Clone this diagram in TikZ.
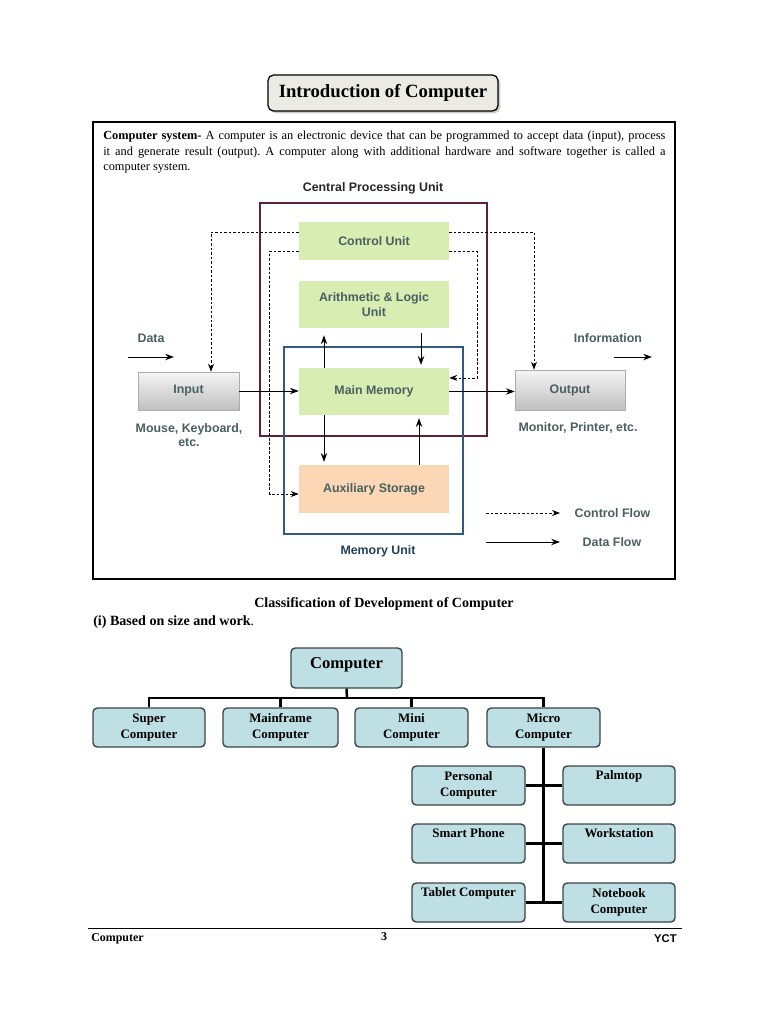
\documentclass[tikz,border=0pt]{standalone}
\usepackage{fontspec}
\setmainfont{Liberation Serif}
\newfontfamily\diagsans{Liberation Sans}
\usetikzlibrary{arrows.meta}
\usetikzlibrary{shadows}
\frenchspacing
\definecolor{cpured}{HTML}{5B2333}
\definecolor{memblue}{HTML}{2E5B7F}
\definecolor{unitgreen}{HTML}{D7EDB2}
\definecolor{auxpeach}{HTML}{FBD7B5}
\definecolor{labgray}{HTML}{4A5F60}
\definecolor{treecyan}{HTML}{BEE0E4}
\definecolor{treeedge}{HTML}{3C4646}
\definecolor{titlefill}{HTML}{ECEBE3}
\newcommand{\diagfont}{\diagsans\bfseries\fontsize{8.8}{10.2}\selectfont}
\newcommand{\pxbox}[7]{\node[#6, minimum width={(#4-#2)*0.025cm}, minimum height={(#5-#3)*0.025cm}] (#1) at ({(#2+#4)/2},{(#3+#5)/2}) {#7};}
\tikzset{
  unit/.style={fill=unitgreen, inner sep=0pt, font=\diagfont, text=labgray, align=center},
  auxunit/.style={unit, fill=auxpeach},
  device/.style={draw=gray!65, top color=gray!8, bottom color=gray!50, inner sep=0pt, font=\diagfont, text=labgray},
  lbl/.style={font=\diagfont, text=labgray, align=center, inner sep=1pt},
  dataflow/.style={-{Stealth[length=2.2mm,width=1.6mm]}, line width=0.7pt},
  ctlflow/.style={-{Stealth[length=2mm,width=1.5mm]}, line width=0.55pt, dash pattern=on 1.8pt off 1.4pt},
  treebox/.style={draw=treeedge, line width=1pt, fill=treecyan, rounded corners=3pt, inner sep=0pt, align=center, font=\bfseries\fontsize{9.2}{11.3}\selectfont},
  oneline/.style={text height=6pt, text depth=15pt},
  branch/.style={line width=1.8pt},
}
\begin{document}
\begin{tikzpicture}[x=0.025cm, y=-0.025cm]
\useasboundingbox[fill=white] (0,0) rectangle (768,1024);
% title and frame
\node[draw, line width=0.9pt, fill=titlefill, rounded corners=4pt, drop shadow={shadow xshift=1.6pt, shadow yshift=-1.6pt, fill=gray!80}, minimum width=5.75cm, minimum height=0.9cm, font=\bfseries\fontsize{13.3}{15}\selectfont] (title) at (383,93) {Introduction of Computer};
\pxbox{frame}{93}{122}{675}{579}{draw, line width=0.8pt}{}
\node[anchor=north west, text width=14.05cm, align=justify, inner sep=0pt, font=\fontsize{8.8}{11}\selectfont] (para) at (103,131) {\textbf{Computer system-} A computer is an electronic device that can be programmed to accept data (input), process\linebreak it and generate result (output). A computer along with additional hardware and software together is called a\linebreak computer system.};
% unit frames
\pxbox{cpu}{260}{203}{487}{436}{draw=cpured, line width=1.4pt}{}
\pxbox{memunit}{284}{347}{463}{534}{draw=memblue, line width=1.4pt}{}
% units
\pxbox{ctrl}{299}{222}{449}{260}{unit}{Control Unit}
\pxbox{alu}{299}{281}{449}{328}{unit}{Arithmetic \& Logic\\Unit}
\pxbox{mainmem}{299}{368}{449}{415}{unit}{Main Memory}
\pxbox{aux}{299}{465}{449}{513}{auxunit}{Auxiliary Storage}
\pxbox{input}{138}{372}{239}{410}{device}{Input}
\pxbox{output}{515}{370}{625}{410}{device}{Output}
% labels
\node[lbl, text=black!85] (cpulabel) at (373,188) {Central Processing Unit};
\node[lbl, text=memblue!70!black] (memlabel) at (378,551) {Memory Unit};
\node[lbl] (datalabel) at (151,338) {Data};
\node[lbl] (infolabel) at (608,338) {Information};
\node[lbl] (inlabel) at (189,435) {Mouse, Keyboard,\\etc.};
\node[lbl] (outlabel) at (578,428) {Monitor, Printer, etc.};
\node[lbl, anchor=west] (cflabel) at (573,513) {Control Flow};
\node[lbl, anchor=west] (dflabel) at (581,542) {Data Flow};
\coordinate (datain) at (128,357);
\coordinate (dataend) at (174,357);
\coordinate (infoin) at (614,357);
\coordinate (infoend) at (652,357);
\coordinate (cfstart) at (486,513);
\coordinate (cfend) at (560,513);
\coordinate (dfstart) at (486,542);
\coordinate (dfend) at (560,542);
% control flow
\draw[ctlflow] ([yshift=0.225cm]ctrl.west) -| ([xshift=0.5625cm]input.north);
\draw[ctlflow] ([yshift=0.225cm]ctrl.east) -| ([xshift=-0.9cm]output.north);
\draw[ctlflow] ([yshift=-0.25cm]ctrl.west) -- ++(-29,0) |- ([yshift=-0.125cm]aux.west);
\draw[ctlflow] ([yshift=-0.25cm]ctrl.east) -- ++(28,0) |- ([yshift=0.34cm]mainmem.east);
\draw[ctlflow] (cfstart) -- (cfend);
% data flow
\draw[dataflow] (datain) -- (dataend);
\draw[dataflow] (infoin) -- (infoend);
\draw[dataflow] (dfstart) -- (dfend);
\draw[dataflow] (input.east) -- (input.east -| mainmem.west);
\draw[dataflow] (mainmem.east) -- (mainmem.east -| output.west);
\draw[dataflow, shorten >=5pt] ([xshift=-1.25cm]mainmem.north) -- ([xshift=-1.25cm]alu.south);
\draw[dataflow, shorten <=3pt, shorten >=2pt] ([xshift=1.175cm]alu.south) -- ([xshift=1.175cm]mainmem.north);
\draw[dataflow, shorten >=2pt] ([xshift=-1.25cm]mainmem.south) -- ([xshift=-1.25cm]aux.north);
\draw[dataflow, shorten >=2pt] ([xshift=1.125cm]aux.north) -- ([xshift=1.125cm]mainmem.south);
% classification
\node[font=\bfseries\fontsize{10}{12}\selectfont] (classhead) at (384,604) {Classification of Development of Computer};
\node[anchor=west, inner sep=0pt, font=\bfseries\fontsize{10}{12}\selectfont] (basedon) at (93,622) {(i) Based on size and work\textmd{.}};
% tree row 0
\pxbox{comp}{291}{648}{402}{688}{treebox, font=\bfseries\fontsize{11.8}{14}\selectfont, text height=8pt, text depth=8pt}{Computer}
% tree row 1
\pxbox{super}{93}{708}{205}{747}{treebox}{Super\\Computer}
\pxbox{mainframe}{223}{708}{338}{747}{treebox}{Mainframe\\Computer}
\pxbox{mini}{355}{708}{468}{747}{treebox}{Mini\\Computer}
\pxbox{micro}{487}{708}{600}{747}{treebox}{Micro\\Computer}
% tree micro types
\pxbox{pc}{412}{766}{525}{805}{treebox}{Personal\\Computer}
\pxbox{palm}{563}{766}{675}{805}{treebox, oneline}{Palmtop}
\pxbox{phone}{412}{824}{525}{863}{treebox, oneline}{Smart Phone}
\pxbox{wstation}{563}{824}{675}{863}{treebox, oneline}{Workstation}
\pxbox{tablet}{412}{883}{525}{922}{treebox, oneline}{Tablet Computer}
\pxbox{notebook}{563}{883}{675}{922}{treebox}{Notebook\\Computer}
% branches
\coordinate (bar) at (347,698);
\draw[branch] (comp.south) -- (bar);
\draw[branch] (super.north) |- (bar) -| (micro.north);
\draw[branch] (mainframe.north) -- (mainframe.north |- bar);
\draw[branch] (mini.north) -- (mini.north |- bar);
\draw[branch] (micro.south) -- (micro.south |- tablet.east);
\draw[branch] (pc.east) -- (palm.west);
\draw[branch] (phone.east) -- (wstation.west);
\draw[branch] (tablet.east) -- (notebook.west);
% footer
\draw[line width=0.6pt] (88,928) -- (682,928);
\node[anchor=west, inner sep=0pt, font=\bfseries\fontsize{8.5}{10}\selectfont] (footleft) at (91,939) {Computer};
\node[inner sep=0pt, font=\bfseries\fontsize{8.5}{10}\selectfont] (footpage) at (384,937) {3};
\node[anchor=east, inner sep=0pt, font=\diagsans\bfseries\fontsize{8}{10}\selectfont] (footright) at (677,939) {YCT};
\end{tikzpicture}
\end{document}
